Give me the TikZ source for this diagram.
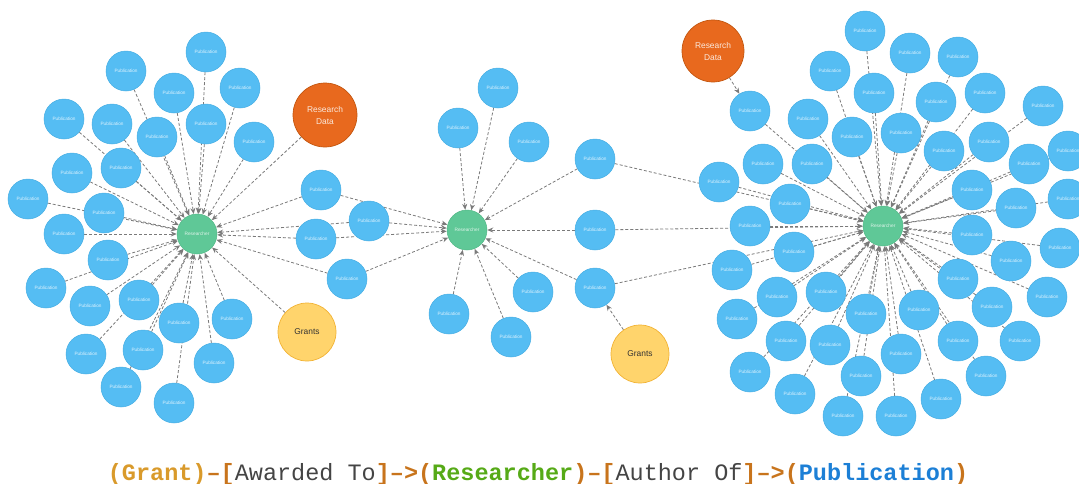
\documentclass[tikz,border=0pt]{standalone}
\usepackage{fontspec}
\setmainfont{Liberation Sans}
\newfontfamily\capfont{Liberation Mono}
\usetikzlibrary{arrows.meta}
\pgfdeclarelayer{bg}
\pgfsetlayers{bg,main}
\definecolor{pubfill}{HTML}{55BDF3}
\definecolor{pubdraw}{HTML}{47AEE3}
\definecolor{resfill}{HTML}{5FC897}
\definecolor{resdraw}{HTML}{52B886}
\definecolor{rdfill}{HTML}{E8691E}
\definecolor{rddraw}{HTML}{C3560F}
\definecolor{grfill}{HTML}{FFD46C}
\definecolor{grdraw}{HTML}{F2B233}
\definecolor{edgec}{HTML}{7A7A7A}
\definecolor{capgold}{HTML}{D99A2B}
\definecolor{caporange}{HTML}{C8741C}
\definecolor{capgreen}{HTML}{56AA17}
\definecolor{capblue}{HTML}{1C7FD6}
\definecolor{capgray}{HTML}{444444}
\begin{document}
\begin{tikzpicture}[x=1pt,y=-1pt,
  pub/.style={circle,fill=pubfill,draw=pubdraw,line width=0.5pt,minimum size=40pt,inner sep=0pt,text=white!80!pubfill,font=\fontsize{4.7}{5}\selectfont},
  res/.style={circle,fill=resfill,draw=resdraw,line width=0.5pt,minimum size=40pt,inner sep=0pt,text=white!80!resfill,font=\fontsize{4.8}{5}\selectfont},
  rdata/.style={circle,fill=rdfill,draw=rddraw,line width=0.7pt,minimum size=64pt,inner sep=0pt,text=white!85!rdfill,font=\fontsize{8.4}{12}\selectfont,align=center},
  grant/.style={circle,fill=grfill,draw=grdraw,line width=0.7pt,minimum size=58pt,inner sep=0pt,text=black!80,font=\fontsize{8.4}{10}\selectfont},
  rel/.style={draw=edgec,line width=0.8pt,dash pattern=on 3pt off 2pt,-{Stealth[length=6pt,width=5pt]}}
]
\useasboundingbox (0,0) rectangle (1079,483);

% researchers
\node[res] (resL) at (197,234) {Researcher};
\node[res] (resM) at (467,230) {Researcher};
\node[res] (resR) at (883,226) {Researcher};

% left cluster publications
\foreach \i/\x/\y in {1/206/52,2/126/71,3/174/93,4/240/88,5/64/119,6/112/124,7/157/137,8/206/124,9/254/142,10/72/173,11/121/168,12/28/199,13/104/213,14/64/234,15/108/260,16/46/288,17/90/306,18/139/300,19/86/354,20/143/350,21/179/323,22/232/319,23/121/387,24/174/403,25/214/363}
  \node[pub] (L\i) at (\x,\y) {Publication};

% shared left-middle
\foreach \i/\x/\y in {1/321/190,2/369/221,3/316/239,4/347/279}
  \node[pub] (S\i) at (\x,\y) {Publication};

% middle
\foreach \i/\x/\y in {1/498/88,2/458/128,3/529/142,4/449/314,5/533/292,6/511/337}
  \node[pub] (M\i) at (\x,\y) {Publication};

% shared middle-right
\foreach \i/\x/\y in {1/595/159,2/595/230,3/595/288}
  \node[pub] (T\i) at (\x,\y) {Publication};

% right cluster
\foreach \i/\x/\y in {1/865/31,2/910/53,3/958/57,4/830/71,5/874/93,6/985/93,7/1043/106,8/750/111,9/808/119,10/852/137,11/901/133,12/936/102,13/944/151,14/989/142,15/812/164,16/763/164,17/719/182,18/790/204,19/1029/164,20/1068/151,21/1068/199,22/972/190,23/1016/208,24/750/226,25/794/252,26/732/270,27/777/297,28/826/292,29/737/319,30/786/341,31/866/314,32/919/310,33/958/279,34/972/235,35/1011/261,36/1060/248,37/1047/297,38/992/307,39/958/341,40/1020/341,41/830/345,42/901/354,43/861/376,44/750/372,45/795/394,46/843/416,47/896/416,48/941/399,49/986/376}
  \node[pub] (R\i) at (\x,\y) {Publication};

% other nodes
\node[rdata] (rdL) at (325,115) {Research\\Data};
\node[rdata,minimum size=62pt] (rdR) at (713,51) {Research\\Data};
\node[grant] (grL) at (307,332) {Grants};
\node[grant] (grR) at (640,354) {Grants};

\begin{pgfonlayer}{bg}
  \foreach \i in {1,...,25} \draw[rel] (L\i) -- (resL);
  \foreach \i in {1,...,4} {\draw[rel] (S\i) -- (resL); \draw[rel] (S\i) -- (resM);}
  \foreach \i in {1,...,6} \draw[rel] (M\i) -- (resM);
  \foreach \i in {1,...,3} {\draw[rel] (T\i) -- (resM); \draw[rel] (T\i) -- (resR);}
  \foreach \i in {1,...,49} \draw[rel] (R\i) -- (resR);
  \draw[rel] (rdL) -- (resL);
  \draw[rel] (grL) -- (resL);
  \draw[rel] (rdR) -- (R8);
  \draw[rel] (grR) -- (T3);
\end{pgfonlayer}

% caption
\node[anchor=base,inner sep=0pt] (cap) at (538,480) {\capfont\fontsize{23.5}{26}\selectfont
  \textcolor{capgold}{\bfseries(Grant)}\textcolor{caporange}{\bfseries\textendash[}\textcolor{capgray}{Awarded To}\textcolor{caporange}{\bfseries]\textendash>(}\textcolor{capgreen}{\bfseries Researcher}\textcolor{caporange}{\bfseries)\textendash[}\textcolor{capgray}{Author Of}\textcolor{caporange}{\bfseries]\textendash>(}\textcolor{capblue}{\bfseries Publication}\textcolor{caporange}{\bfseries)}};
\end{tikzpicture}
\end{document}
